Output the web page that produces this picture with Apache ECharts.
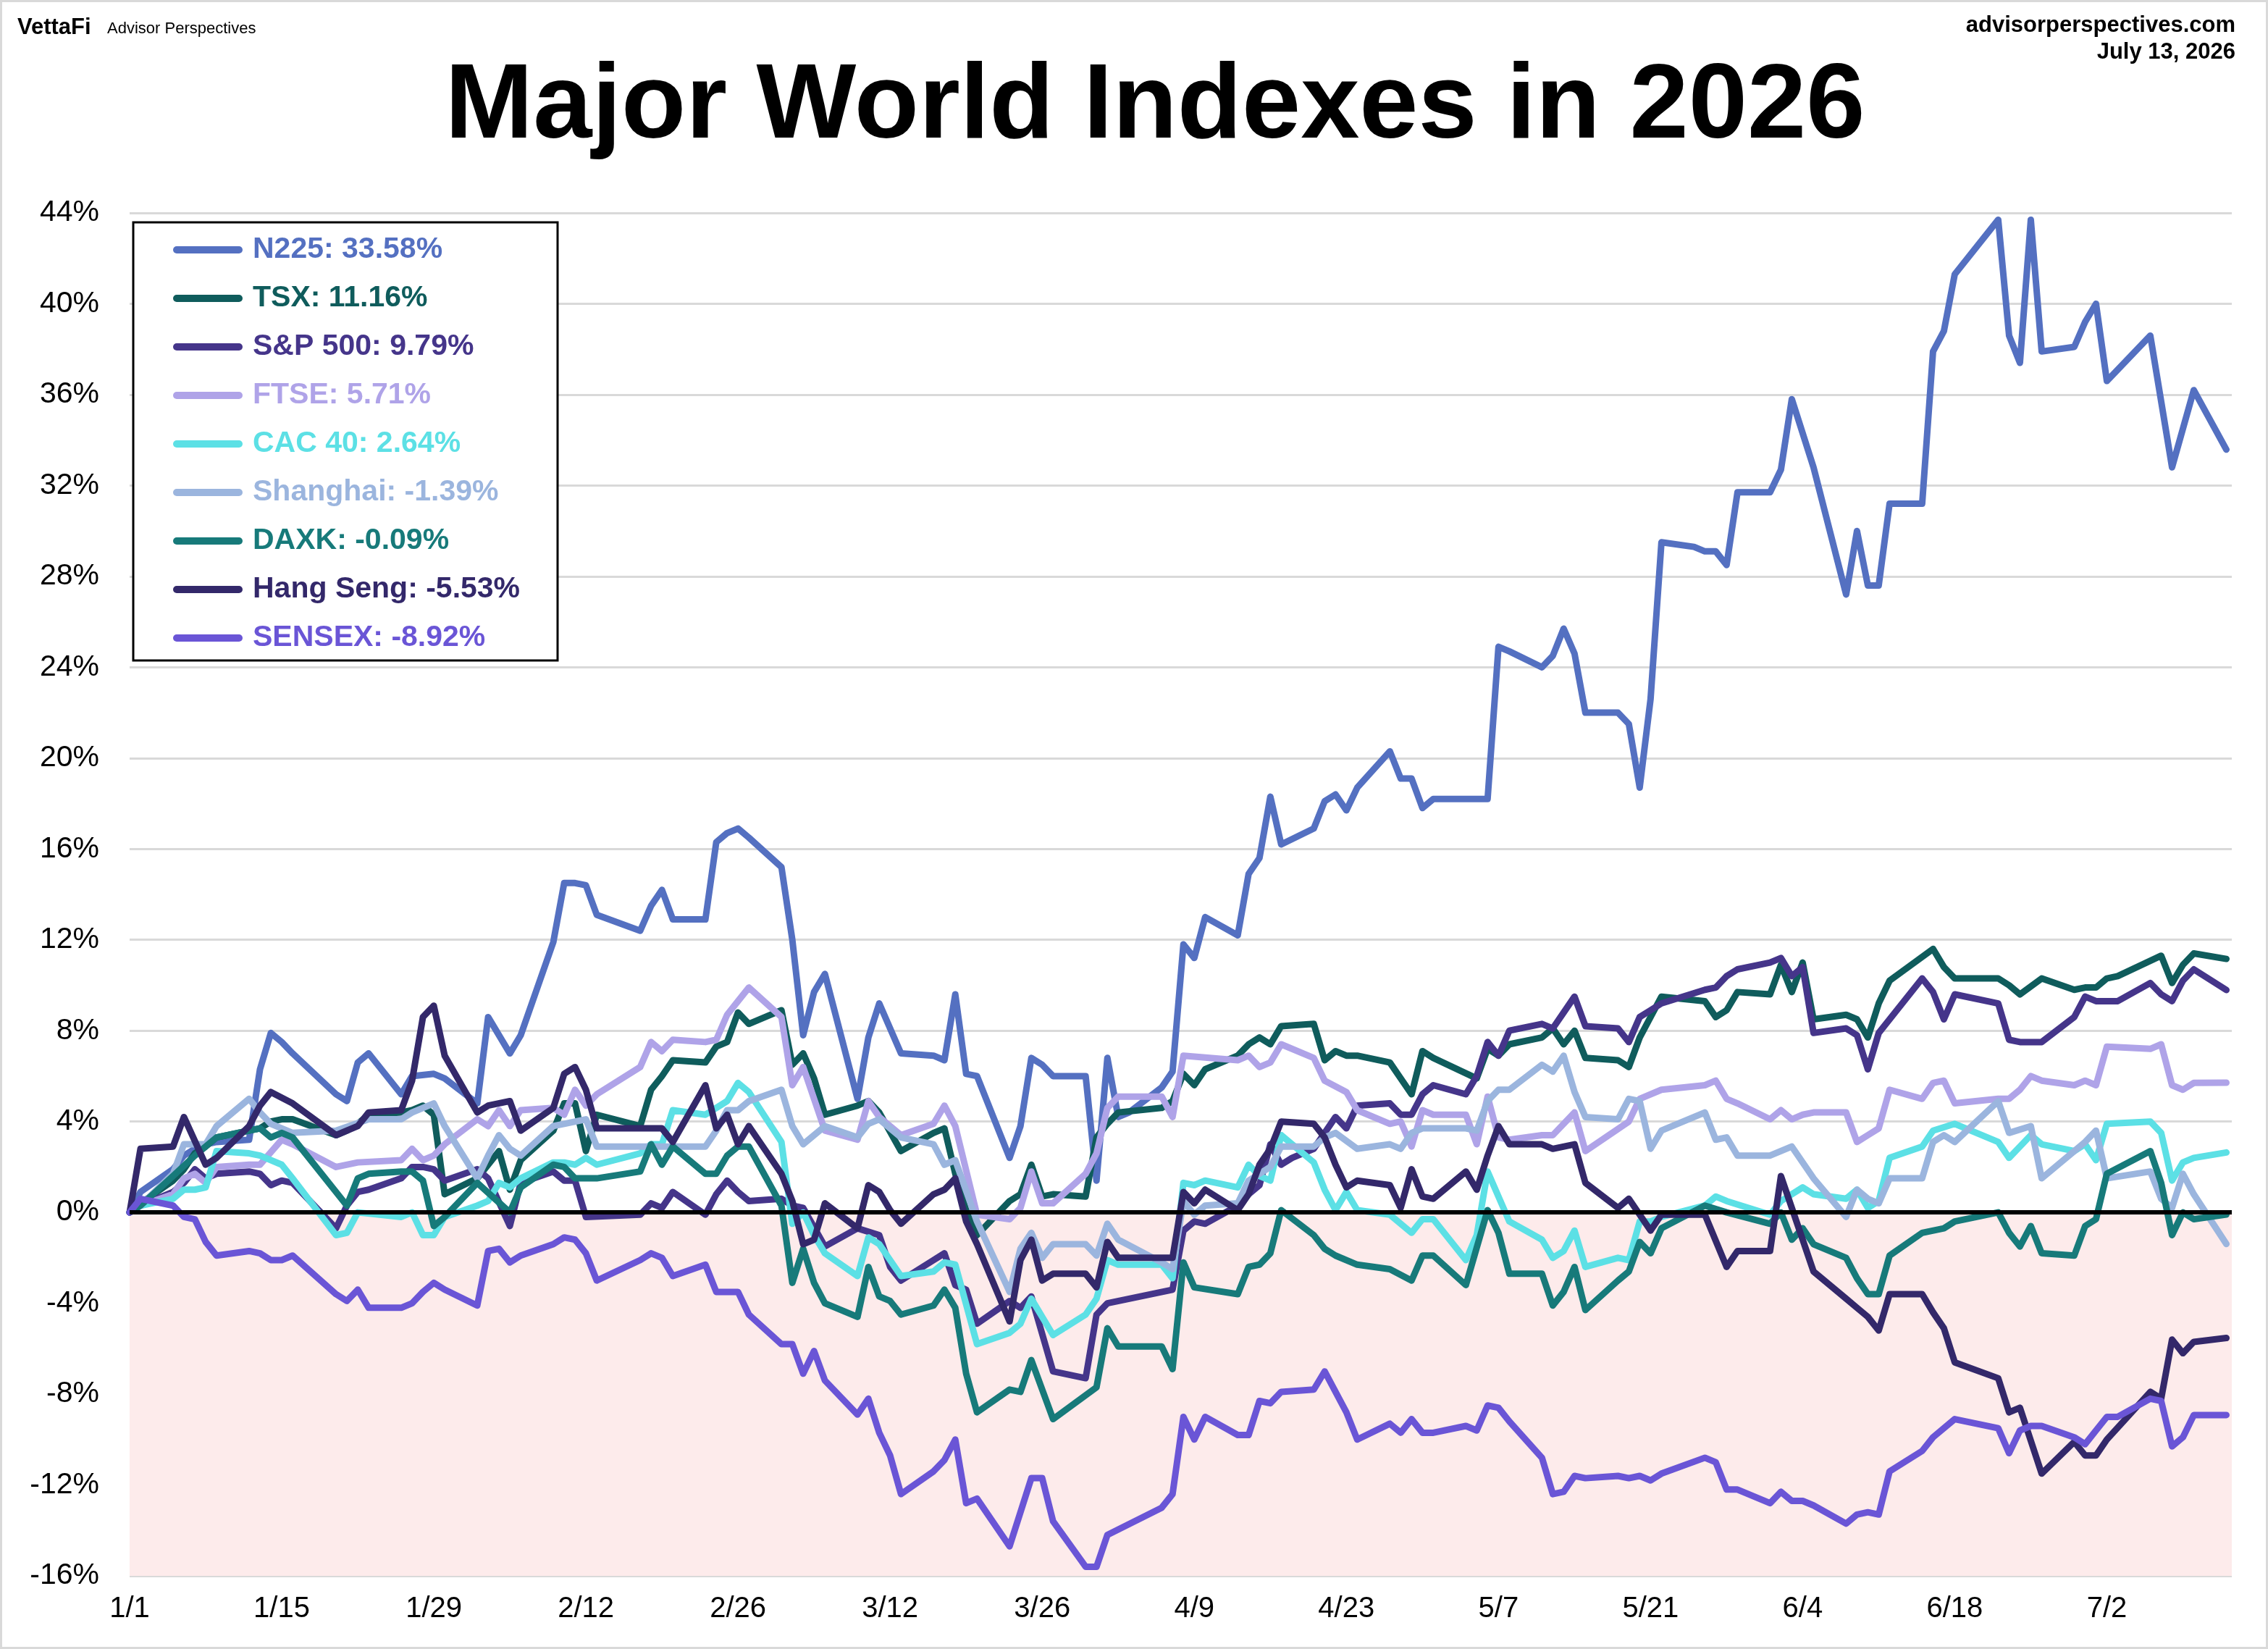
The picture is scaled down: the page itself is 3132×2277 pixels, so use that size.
<!DOCTYPE html>
<html>
<head>
<meta charset="utf-8">
<script src="https://cdn.jsdelivr.net/npm/echarts@6/dist/echarts.min.js"></script>
<style>
    html, body { margin: 0; padding: 0; background: #fff; }
    #main { width: 3132px; height: 2277px; }
</style>
</head>
<body>
<div id="main"></div>
<script>
    // values are % change since 1/1, keyed by calendar day (0 = Jan 1)
    var n225 = [[0,0],[1,0.9],[4,1.9],[5,2.5],[6,2.8],[7,3.0],[8,3.1],[11,3.2],[12,6.3],[13,7.9],[14,7.5],[15,7.0],[19,5.2],[20,4.9],[21,6.6],[22,7.0],[25,5.2],[26,6.0],[28,6.1],[29,5.9],[32,4.8],[33,8.6],[35,7.0],[36,7.8],[39,11.9],[40,14.5],[41,14.5],[42,14.4],[43,13.1],[47,12.4],[48,13.5],[49,14.2],[50,12.9],[53,12.9],[54,16.3],[55,16.7],[56,16.9],[57,16.5],[60,15.2],[61,12.0],[62,7.8],[63,9.7],[64,10.5],[67,5.0],[68,7.7],[69,9.2],[71,7.0],[74,6.9],[75,6.7],[76,9.6],[77,6.1],[78,6.0],[81,2.4],[82,3.8],[83,6.8],[84,6.5],[85,6.0],[88,6.0],[89,1.4],[90,6.8],[91,4.2],[92,4.4],[95,5.5],[96,6.2],[97,11.8],[98,11.2],[99,13.0],[102,12.2],[103,14.9],[104,15.6],[105,18.3],[106,16.2],[109,16.9],[110,18.1],[111,18.4],[112,17.7],[113,18.7],[116,20.3],[117,19.1],[118,19.1],[119,17.8],[120,18.2],[125,18.2],[126,24.9],[127,24.7],[130,24.0],[131,24.5],[132,25.7],[133,24.6],[134,22.0],[137,22.0],[138,21.5],[139,18.7],[140,22.6],[141,29.5],[144,29.3],[145,29.1],[146,29.1],[147,28.5],[148,31.7],[151,31.7],[152,32.7],[153,35.8],[155,32.8],[158,27.2],[159,30.0],[160,27.6],[161,27.6],[162,31.2],[165,31.2],[166,37.9],[167,38.8],[168,41.3],[172,43.7],[173,38.6],[174,37.4],[175,43.7],[176,37.9],[179,38.1],[180,39.2],[181,40.0],[182,36.6],[186,38.6],[188,32.8],[189,34.5],[190,36.2],[193,33.58]];
    var tsx = [[0,0],[1,0.4],[4,1.4],[5,1.9],[6,2.6],[7,2.9],[8,3.3],[11,3.6],[12,3.7],[13,4.0],[14,4.1],[15,4.1],[19,3.4],[20,3.6],[21,3.9],[22,4.3],[25,4.4],[26,4.5],[27,4.7],[28,4.3],[29,0.8],[32,1.5],[34,2.7],[35,1.0],[36,2.3],[39,3.6],[40,4.8],[41,4.8],[42,2.7],[43,4.3],[47,3.8],[48,5.4],[49,6.0],[50,6.7],[53,6.6],[54,7.3],[55,7.5],[56,8.8],[57,8.3],[60,8.9],[61,6.5],[62,7.0],[63,5.9],[64,4.3],[67,4.7],[68,4.9],[69,4.4],[71,2.7],[74,3.5],[75,3.7],[76,1.7],[77,0.1],[78,-1.0],[81,0.5],[82,0.8],[83,2.1],[84,0.7],[85,0.8],[88,0.7],[89,3.3],[90,3.9],[91,4.4],[95,4.6],[96,4.9],[97,6.1],[98,5.6],[99,6.3],[102,6.9],[103,7.4],[104,7.7],[105,7.4],[106,8.2],[109,8.3],[110,6.7],[111,7.1],[112,6.9],[113,6.9],[116,6.6],[118,5.2],[119,7.1],[120,6.8],[124,5.9],[125,7.2],[126,6.9],[127,7.4],[130,7.7],[131,8.1],[132,7.4],[133,8.0],[134,6.8],[137,6.7],[138,6.4],[139,7.7],[141,9.5],[145,9.3],[146,8.6],[147,8.9],[148,9.7],[151,9.6],[152,10.9],[153,9.7],[154,11.0],[155,8.5],[158,8.7],[159,8.5],[160,7.7],[161,9.2],[162,10.2],[166,11.6],[167,10.8],[168,10.3],[172,10.3],[173,10.0],[174,9.6],[176,10.3],[179,9.8],[180,9.9],[181,9.9],[182,10.3],[183,10.4],[187,11.3],[188,10.1],[189,10.9],[190,11.4],[193,11.16]];
    var sp500 = [[0,0],[1,0.3],[4,0.9],[5,1.3],[6,1.9],[7,1.5],[8,1.7],[11,1.8],[12,1.7],[13,1.2],[14,1.4],[15,1.3],[19,-0.7],[20,0.3],[21,0.9],[22,1.0],[25,1.5],[26,2.0],[27,2.0],[28,1.9],[29,1.4],[32,1.9],[33,1.5],[35,-0.6],[36,1.3],[39,1.8],[40,1.4],[41,1.4],[42,-0.2],[47,-0.1],[48,0.4],[49,0.2],[50,0.9],[53,-0.1],[54,0.8],[55,1.4],[56,0.9],[57,0.5],[60,0.6],[61,0.3],[62,0.2],[64,-1.5],[67,-0.7],[69,-1.0],[70,-2.4],[71,-3.0],[74,-2.1],[75,-1.8],[76,-3.2],[77,-3.4],[78,-4.9],[81,-3.9],[82,-4.2],[83,-3.7],[85,-7.0],[88,-7.3],[89,-4.5],[90,-4.0],[96,-3.4],[97,-0.8],[98,-0.4],[99,-0.5],[102,0.3],[103,0.8],[104,1.2],[105,3.0],[106,2.1],[107,2.4],[109,2.8],[111,4.2],[112,3.7],[113,4.7],[116,4.8],[117,4.3],[118,4.3],[119,5.2],[120,5.6],[123,5.2],[124,6.0],[125,7.5],[126,6.9],[127,8.0],[130,8.3],[131,8.1],[132,8.8],[133,9.5],[134,8.2],[137,8.1],[138,7.5],[139,8.6],[140,8.9],[141,9.2],[145,9.8],[146,9.9],[147,10.4],[148,10.7],[151,11.0],[152,11.2],[153,10.4],[154,10.8],[155,7.9],[158,8.1],[159,7.8],[160,6.3],[161,7.9],[165,10.3],[166,9.7],[167,8.5],[168,9.6],[172,9.2],[173,7.6],[174,7.5],[176,7.5],[179,8.6],[180,9.5],[181,9.3],[182,9.3],[183,9.3],[186,10.1],[187,9.6],[188,9.3],[189,10.2],[190,10.7],[193,9.79]];
    var ftse = [[0,0],[1,0.3],[4,0.8],[5,1.5],[6,1.7],[7,1.3],[8,2.0],[11,2.1],[12,2.1],[14,3.2],[15,3.0],[19,2.0],[21,2.2],[25,2.3],[26,2.8],[27,2.3],[28,2.5],[29,3.0],[32,4.1],[33,3.8],[34,4.5],[35,3.8],[36,4.5],[39,4.6],[40,4.3],[41,5.4],[42,4.7],[43,5.2],[47,6.4],[48,7.5],[49,7.1],[50,7.6],[53,7.5],[54,7.6],[55,8.7],[56,9.3],[57,9.9],[60,8.6],[61,5.6],[62,6.4],[64,3.6],[67,3.2],[68,4.9],[69,4.2],[71,3.4],[74,3.9],[75,4.7],[76,3.8],[78,-0.1],[81,-0.3],[82,0.2],[83,1.8],[84,0.4],[85,0.4],[88,1.7],[89,2.6],[90,4.6],[91,5.1],[95,5.1],[96,4.2],[97,6.9],[102,6.7],[103,6.9],[104,6.4],[105,6.6],[106,7.4],[109,6.8],[110,5.8],[112,5.3],[113,4.5],[116,3.9],[117,4.0],[118,2.9],[119,4.5],[120,4.3],[123,4.3],[124,3.0],[125,5.1],[126,3.3],[127,3.2],[130,3.4],[131,3.4],[133,4.4],[134,2.7],[138,4.0],[139,5.0],[141,5.4],[145,5.6],[146,5.8],[147,5.0],[148,4.8],[151,4.1],[152,4.5],[153,4.1],[154,4.3],[155,4.4],[158,4.4],[159,3.1],[160,3.4],[161,3.7],[162,5.4],[165,5.0],[166,5.7],[167,5.8],[168,4.8],[172,5.0],[173,5.0],[174,5.4],[175,6.0],[176,5.8],[179,5.6],[180,5.8],[181,5.6],[182,7.3],[186,7.2],[187,7.4],[188,5.6],[189,5.4],[190,5.7],[193,5.71]];
    var cac40 = [[0,0],[1,0.3],[4,0.6],[5,1.0],[6,1.0],[7,1.1],[8,2.7],[11,2.6],[12,2.5],[14,2.1],[15,1.5],[19,-1.0],[20,-0.9],[21,0.0],[25,-0.2],[26,0.0],[27,-1.0],[28,-1.0],[29,-0.2],[32,0.3],[33,0.5],[34,1.3],[35,1.1],[36,1.5],[39,2.2],[40,2.2],[41,2.1],[42,2.4],[43,2.1],[47,2.6],[48,3.0],[49,3.0],[50,4.5],[53,4.3],[54,4.6],[55,4.9],[56,5.7],[57,5.3],[60,3.1],[61,-0.5],[62,0.0],[63,-1.0],[64,-1.8],[67,-2.8],[68,-1.1],[69,-1.4],[71,-2.8],[74,-2.6],[75,-2.2],[76,-2.3],[78,-5.8],[81,-5.3],[82,-4.9],[83,-3.8],[85,-5.4],[88,-4.5],[89,-3.8],[90,-2.1],[91,-2.3],[95,-2.3],[96,-2.9],[97,1.3],[98,1.2],[99,1.4],[102,1.1],[103,2.1],[104,1.6],[105,1.4],[106,3.4],[109,2.2],[110,1.0],[111,0.1],[112,0.9],[113,0.1],[116,-0.1],[118,-0.9],[119,-0.3],[120,-0.3],[123,-2.1],[124,-1.0],[125,1.8],[127,-0.4],[130,-1.2],[131,-2.0],[132,-1.7],[133,-0.8],[134,-2.4],[137,-2.0],[138,-2.1],[139,-0.4],[140,-0.4],[141,-0.2],[145,0.3],[146,0.7],[147,0.5],[151,-0.1],[152,0.5],[154,1.1],[155,0.8],[158,0.6],[159,1.0],[160,0.2],[161,0.5],[162,2.4],[165,2.9],[166,3.6],[168,3.9],[172,3.1],[173,2.4],[175,3.4],[176,3.0],[179,2.7],[180,3.0],[181,2.3],[182,3.9],[186,4.0],[187,3.5],[188,1.4],[189,2.2],[190,2.4],[193,2.64]];
    var shanghai = [[0,0],[1,0.3],[4,1.7],[5,3.0],[7,3.0],[8,3.8],[11,5.0],[12,4.4],[13,3.9],[15,3.5],[19,3.6],[22,4.1],[25,4.1],[26,4.4],[28,4.8],[29,3.8],[32,1.5],[33,2.5],[34,3.4],[35,2.8],[36,2.5],[39,3.8],[40,3.9],[42,4.1],[43,2.9],[53,2.9],[54,3.6],[55,4.5],[56,4.5],[57,4.9],[60,5.4],[61,3.8],[62,3.0],[64,3.8],[67,3.3],[68,3.9],[69,4.1],[71,3.3],[74,3.0],[75,2.1],[76,2.3],[78,-0.4],[81,-3.5],[82,-1.6],[83,-0.9],[84,-2.0],[85,-1.4],[88,-1.4],[89,-1.9],[90,-0.5],[91,-1.2],[95,-2.2],[96,-2.5],[97,0.5],[98,-0.1],[99,0.3],[102,0.4],[103,1.4],[104,1.7],[105,2.0],[106,2.9],[109,2.9],[110,3.3],[111,3.5],[113,2.8],[116,3.0],[117,2.8],[118,3.5],[119,3.7],[123,3.7],[124,3.6],[125,4.9],[126,5.4],[127,5.4],[130,6.5],[131,6.2],[132,6.9],[133,5.3],[134,4.2],[137,4.1],[138,5.0],[139,4.9],[140,2.8],[141,3.6],[145,4.4],[146,3.2],[147,3.3],[148,2.5],[151,2.5],[153,2.9],[155,1.5],[158,-0.2],[159,1.0],[160,0.6],[161,0.4],[162,1.5],[165,1.5],[166,3.1],[167,3.4],[168,3.1],[172,4.9],[173,3.5],[175,3.8],[176,1.5],[179,2.7],[180,3.1],[181,3.6],[182,1.5],[186,1.8],[187,0.6],[188,0.2],[189,1.7],[190,0.8],[193,-1.39]];
    var daxk = [[0,0],[1,0.3],[4,1.6],[6,2.5],[8,3.3],[11,3.6],[12,3.7],[13,3.3],[14,3.5],[15,3.3],[20,0.3],[21,1.5],[22,1.7],[25,1.8],[26,1.8],[27,1.4],[28,-0.6],[29,-0.2],[32,1.3],[35,0.0],[36,1.1],[39,2.1],[40,2.0],[41,1.5],[43,1.5],[47,1.8],[48,3.0],[49,2.1],[50,2.9],[53,1.7],[54,1.7],[55,2.5],[56,2.9],[57,2.9],[60,0.3],[61,-3.1],[62,-1.6],[63,-3.1],[64,-4.0],[67,-4.6],[68,-2.4],[69,-3.7],[70,-3.9],[71,-4.5],[74,-4.1],[75,-3.4],[76,-4.2],[77,-7.1],[78,-8.8],[81,-7.8],[82,-7.9],[83,-6.5],[85,-9.1],[89,-7.7],[90,-5.1],[91,-5.9],[95,-5.9],[96,-6.9],[97,-2.2],[98,-3.3],[102,-3.6],[103,-2.4],[104,-2.3],[105,-1.8],[106,0.1],[109,-1.0],[110,-1.6],[111,-1.9],[113,-2.3],[116,-2.5],[118,-3.0],[119,-1.9],[120,-1.9],[123,-3.2],[125,0.1],[126,-0.9],[127,-2.7],[130,-2.7],[131,-4.1],[132,-3.5],[133,-2.4],[134,-4.3],[137,-3.0],[138,-2.6],[139,-1.3],[140,-1.8],[141,-0.7],[145,0.3],[147,0.0],[151,-0.5],[152,0.0],[153,-1.2],[154,-0.7],[155,-1.4],[158,-2.0],[159,-2.9],[160,-3.6],[161,-3.6],[162,-1.9],[165,-0.9],[167,-0.7],[168,-0.4],[172,0.0],[173,-0.9],[174,-1.5],[175,-0.6],[176,-1.8],[179,-1.9],[180,-0.6],[181,-0.3],[182,1.7],[186,2.7],[187,1.3],[188,-1.0],[189,0.0],[190,-0.3],[193,-0.09]];
    var hangSeng = [[0,0],[1,2.8],[4,2.9],[5,4.2],[7,2.1],[8,2.4],[11,3.8],[12,4.7],[13,5.3],[15,4.8],[19,3.4],[21,3.8],[22,4.4],[25,4.5],[26,5.8],[27,8.6],[28,9.1],[29,6.9],[32,4.4],[33,4.7],[35,4.9],[36,3.6],[39,4.6],[40,6.1],[41,6.4],[42,5.4],[43,3.7],[49,3.7],[50,3.1],[53,5.6],[54,3.7],[55,4.3],[56,3.0],[57,3.8],[60,1.7],[61,0.5],[62,-1.4],[63,-1.2],[64,0.4],[67,-0.7],[68,1.2],[69,0.9],[70,0.1],[71,-0.5],[74,0.8],[75,1.0],[76,1.5],[77,-0.4],[78,-1.4],[81,-4.8],[82,-2.1],[83,-1.2],[84,-3.0],[85,-2.7],[88,-2.7],[89,-3.3],[90,-1.3],[91,-2.0],[96,-2.0],[97,0.9],[98,0.4],[99,1.0],[102,0.1],[103,0.8],[104,2.1],[105,2.8],[106,4.0],[109,3.9],[110,3.3],[111,2.1],[112,1.1],[113,1.4],[116,1.2],[117,0.2],[118,1.9],[119,0.7],[120,0.6],[123,1.8],[124,1.0],[125,2.5],[126,3.8],[127,3.0],[130,3.0],[131,2.8],[133,3.0],[134,1.3],[137,0.2],[138,0.6],[140,-0.8],[141,-0.1],[145,-0.1],[147,-2.4],[148,-1.7],[151,-1.7],[152,1.6],[154,-1.2],[155,-2.6],[158,-3.8],[159,-4.2],[160,-4.6],[161,-5.2],[162,-3.6],[165,-3.6],[166,-4.4],[167,-5.1],[168,-6.6],[172,-7.3],[173,-8.8],[174,-8.6],[176,-11.5],[179,-10.1],[180,-10.7],[181,-10.7],[182,-10.0],[186,-7.9],[187,-8.2],[188,-5.6],[189,-6.2],[190,-5.7],[193,-5.53]];
    var sensex = [[0,0],[1,0.6],[4,0.3],[5,-0.2],[6,-0.3],[7,-1.3],[8,-1.9],[11,-1.7],[12,-1.8],[13,-2.1],[14,-2.1],[15,-1.9],[19,-3.6],[20,-3.9],[21,-3.4],[22,-4.2],[25,-4.2],[26,-4.0],[27,-3.5],[28,-3.1],[29,-3.4],[32,-4.1],[33,-1.7],[34,-1.6],[35,-2.2],[36,-1.9],[39,-1.4],[40,-1.1],[41,-1.2],[42,-1.8],[43,-3.0],[47,-2.1],[48,-1.8],[49,-2.0],[50,-2.8],[53,-2.3],[54,-3.5],[56,-3.5],[57,-4.5],[60,-5.8],[61,-5.8],[62,-7.1],[63,-6.1],[64,-7.4],[67,-8.9],[68,-8.2],[69,-9.7],[70,-10.7],[71,-12.4],[74,-11.4],[75,-10.9],[76,-10.0],[77,-12.8],[78,-12.6],[81,-14.7],[83,-11.7],[84,-11.7],[85,-13.6],[88,-15.6],[89,-15.6],[90,-14.2],[95,-13.0],[96,-12.4],[97,-9.0],[98,-10.0],[99,-9.0],[102,-9.8],[103,-9.8],[104,-8.3],[105,-8.4],[106,-7.9],[109,-7.8],[110,-7.0],[112,-8.8],[113,-10.0],[116,-9.3],[117,-9.7],[118,-9.1],[119,-9.7],[120,-9.7],[123,-9.4],[124,-9.6],[125,-8.5],[126,-8.6],[127,-9.2],[130,-10.8],[131,-12.4],[132,-12.3],[133,-11.6],[134,-11.7],[137,-11.6],[138,-11.7],[139,-11.6],[140,-11.8],[141,-11.5],[145,-10.8],[146,-11.0],[147,-12.2],[148,-12.2],[151,-12.8],[152,-12.3],[153,-12.7],[154,-12.7],[155,-12.9],[158,-13.7],[159,-13.3],[160,-13.2],[161,-13.3],[162,-11.4],[165,-10.5],[166,-9.9],[168,-9.1],[172,-9.5],[173,-10.6],[174,-9.6],[175,-9.4],[176,-9.4],[179,-9.9],[180,-10.2],[181,-9.6],[182,-9.0],[183,-9.0],[186,-8.2],[187,-8.3],[188,-10.3],[189,-9.9],[190,-8.92],[193,-8.92]];

    var indexNames = ['N225', 'TSX', 'S&P 500', 'FTSE', 'CAC 40', 'Shanghai', 'DAXK', 'Hang Seng', 'SENSEX'];
    var ytdLabels = ['33.58%', '11.16%', '9.79%', '5.71%', '2.64%', '-1.39%', '-0.09%', '-5.53%', '-8.92%'];
    var seriesData = [n225, tsx, sp500, ftse, cac40, shanghai, daxk, hangSeng, sensex];
    var colors = ['#5470C1', '#0F5C5C', '#45358A', '#AFA3E8', '#5CE0E5', '#9BB5DE', '#177A7A', '#33286A', '#6A55D6'];

    var FONT = '"Liberation Sans", Arial, sans-serif';

    function dayLabel(d) {
        var t = new Date(2026, 0, 1 + d);
        return (t.getMonth() + 1) + '/' + t.getDate();
    }

    var legendData = [];
    var series = [{
        // pink band under zero, drawn beneath the grid lines
        type: 'line', data: [], z: -1, silent: true,
        markArea: {
            silent: true,
            itemStyle: { color: '#FDEBEB' },
            data: [[{ yAxis: -16 }, { yAxis: 0 }]]
        }
    }, {
        type: 'line', data: [], z: 1, silent: true,
        markLine: {
            silent: true, symbol: 'none', label: { show: false },
            lineStyle: { color: '#000', width: 6, type: 'solid' },
            data: [{ yAxis: 0 }]
        }
    }];
    indexNames.forEach(function (n, i) {
        var name = n + ': ' + ytdLabels[i];
        legendData.push({ name: name, textStyle: { color: colors[i] } });
        series.push({
            name: name,
            type: 'line',
            data: seriesData[i],
            showSymbol: false,
            symbol: 'none',
            z: 2,
            color: colors[i],
            lineStyle: { width: 9, color: colors[i], join: 'round', cap: 'round' }
        });
    });

    var chart = echarts.init(document.getElementById('main'));
    chart.setOption({
        animation: false,
        backgroundColor: '#fff',
        grid: { left: 179, right: 50, top: 294, bottom: 101 },
        xAxis: {
            type: 'value',
            min: 0,
            max: 193.5,
            interval: 14,
            axisLine: { show: false },
            axisTick: { show: false },
            splitLine: { show: false },
            axisLabel: {
                fontSize: 40, color: '#000', fontFamily: FONT, margin: 26,
                showMaxLabel: false,
                formatter: function (v) { return dayLabel(v); }
            }
        },
        yAxis: {
            type: 'value',
            min: -16,
            max: 44,
            interval: 4,
            axisLine: { show: false },
            axisTick: { show: false },
            splitLine: { lineStyle: { color: '#d9d9d9', width: 3 } },
            axisLabel: { fontSize: 41, color: '#000', fontFamily: FONT, margin: 42, formatter: '{value}%' }
        },
        legend: {
            z: 20,
            orient: 'vertical',
            left: 234,
            top: 316,
            itemWidth: 96,
            itemHeight: 10,
            itemGap: 19,
            selectedMode: false,
            icon: 'path://M5,0 H91 A5,5 0 0 1 91,10 H5 A5,5 0 0 1 5,0 Z',
            textStyle: { fontSize: 41, fontWeight: 'bold', fontFamily: FONT, lineHeight: 48, padding: [0, 0, 0, 9] },
            data: legendData
        },
        graphic: [
            { type: 'rect', silent: true, z: -10, shape: { x: 1.5, y: 1.5, width: 3129, height: 2274 },
              style: { fill: null, stroke: '#d9d9d9', lineWidth: 3 } },
            { type: 'rect', silent: true, z: 3, shape: { x: 184, y: 307, width: 586, height: 605 },
              style: { fill: '#fff', stroke: '#000', lineWidth: 3 } },
            { type: 'text', silent: true, z: 10, x: 1595, y: 150,
              style: { text: 'Major World Indexes in 2026', font: 'bold 146px ' + FONT, fill: '#000',
                       textAlign: 'center', textVerticalAlign: 'middle' } },
            { type: 'text', silent: true, z: 10, x: 24, y: 38,
              style: { text: 'VettaFi', font: 'bold 31px ' + FONT, fill: '#000', textVerticalAlign: 'middle' } },
            { type: 'text', silent: true, z: 10, x: 148, y: 40,
              style: { text: 'Advisor Perspectives', font: '22px ' + FONT, fill: '#000', textVerticalAlign: 'middle' } },
            { type: 'text', silent: true, z: 10, x: 3087, y: 35,
              style: { text: 'advisorperspectives.com', font: 'bold 31px ' + FONT, fill: '#000',
                       textAlign: 'right', textVerticalAlign: 'middle' } },
            { type: 'text', silent: true, z: 10, x: 3087, y: 72,
              style: { text: 'July 13, 2026', font: 'bold 31px ' + FONT, fill: '#000',
                       textAlign: 'right', textVerticalAlign: 'middle' } }
        ],
        series: series
    });
</script>
</body>
</html>
